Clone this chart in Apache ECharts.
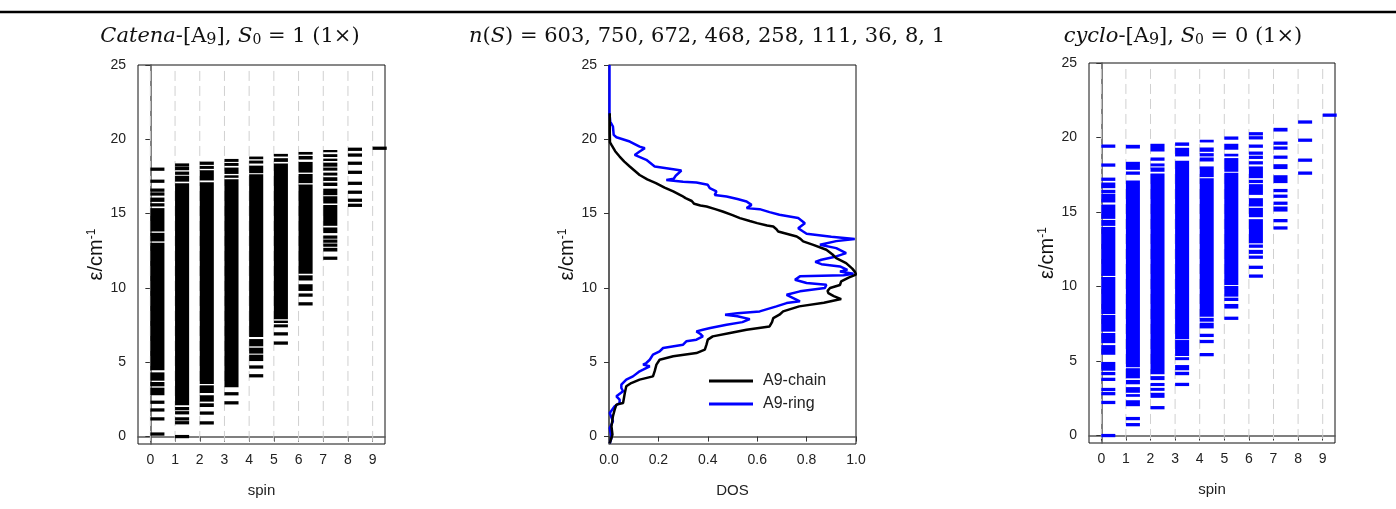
<!DOCTYPE html>
<html>
<head>
<meta charset="utf-8">
<script src="https://cdn.jsdelivr.net/npm/echarts@6/dist/echarts.min.js"></script>
<style>html,body{margin:0;padding:0;background:#fff;}#c{width:1396px;height:509px;}</style>
</head>
<body>
<div id="c"></div>
<script>
// ---- data ----
const spinTicks = [0,1,2,3,4,5,6,7,8,9];
const energyTicks = [0,5,10,15,20,25];

// Catena-[A9] levels per spin: number = single level, [lo,hi] = dense band
const chainLevels = [
  [17.99,17.18,16.58,16.32,[15.79,16.08],[15.48,15.70],[13.80,15.37],[13.13,13.71],[4.46,13.04],[3.76,4.32],[3.38,3.67],[2.78,3.29],2.31,1.79,1.19,0.17],
  [18.27,18.03,17.72,[17.15,17.55],[2.11,17.05],1.88,1.60,1.19,0.93,0.0],
  [[18.28,18.50],[18.01,18.21],[17.23,17.92],[3.54,17.11],[2.93,3.45],[2.35,2.78],[1.99,2.24],1.58,0.92],
  [[18.48,18.68],[18.21,18.41],[17.67,18.10],[17.41,17.58],[3.32,17.32],2.88,2.27],
  [[18.66,18.84],[18.37,18.57],[17.72,18.23],[6.70,17.65],[6.07,6.56],[5.58,5.98],[5.08,5.51],4.68,4.09],
  [[18.84,19.02],[18.48,18.73],[7.90,18.37],[7.64,7.80],[7.35,7.55],6.91,6.29],
  [[18.97,19.15],[18.64,18.88],[17.76,18.48],[17.05,17.67],[10.95,16.96],[10.50,10.85],[9.80,10.25],9.52,8.93],
  [[19.13,19.28],[18.81,19.00],[18.54,18.70],[18.16,18.43],[17.89,18.10],[17.56,17.76],[17.20,17.45],[16.86,17.09],[16.24,16.68],[15.68,16.17],[14.18,15.58],[13.69,14.07],13.42,13.15,12.88,[12.45,12.70],12.0],
  [19.33,18.94,18.39,17.78,17.04,16.44,15.90,15.56],
  [19.40]
];

// cyclo-[A9] levels per spin
const ringLevels = [
  [19.42,18.15,17.20,[16.60,16.98],[16.26,16.49],[15.64,16.22],[14.54,15.50],[14.07,14.47],[10.71,14.00],[8.15,10.64],[6.97,8.09],[6.20,6.88],[5.42,6.07],[4.35,4.94],[4.05,4.27],3.77,3.09,2.81,2.22,0.0],
  [[19.26,19.51],[17.83,18.37],[17.50,17.72],[4.59,17.11],[3.84,4.52],[3.44,3.73],[2.87,3.25],[2.60,2.78],[1.97,2.37],1.14,0.73],
  [[19.06,19.58],[18.44,18.66],[18.06,18.26],[17.70,17.99],[4.12,17.58],[3.72,3.99],[3.32,3.53],[3.00,3.20],[2.53,2.87],1.87],
  [[19.44,19.67],[18.73,19.31],[6.47,18.44],[5.34,6.41],[5.06,5.26],[4.38,4.73],[4.05,4.28],3.43],
  [[19.67,19.85],[19.04,19.33],[18.73,18.95],[18.39,18.66],[17.34,18.06],[7.97,17.27],[7.64,7.90],[7.19,7.57],6.72,6.31,5.43],
  [[19.85,20.07],[19.18,19.58],[18.73,18.91],[17.70,18.62],[10.10,17.63],[9.32,10.04],[9.03,9.25],[8.52,8.83],7.87],
  [20.25,19.98,19.42,[18.84,19.06],18.67,18.30,[17.27,18.06],[16.94,17.16],[16.15,16.87],[15.37,15.93],[14.65,15.28],[12.90,14.52],12.71,[12.19,12.46],11.97,11.29,10.70],
  [[20.40,20.65],19.62,[19.18,19.40],18.68,[17.88,18.21],[16.94,17.47],[16.33,16.55],16.06,[15.48,15.70],[15.03,15.37],14.42,13.93],
  [21.04,19.82,18.48,17.61],
  [21.50]
];

// DOS curves (energy, normalised DOS)
const chainE   = [21.75,20.5,19.8,19.62,19.2,18.84,18.5,18.17,17.6,17.3,17.05,16.75,16.49,16.2,16.04,15.85,15.66,15.55,15.48,15.3,15.14,14.9,14.7,14.5,14.36,14.2,14.13,13.95,13.8,13.6,13.46,13.3,13.13,12.9,12.57,12.25,12.0,11.67,11.3,11.1,10.9,10.7,10.44,10.2,10.0,9.8,9.65,9.45,9.25,9.0,8.76,8.42,8.2,7.97,7.7,7.41,7.19,6.97,6.74,6.52,6.2,5.85,5.62,5.4,5.17,4.84,4.4,4.05,3.83,3.6,3.38,2.93,2.26,2.15,1.81,1.37,0.69,0.13,-0.45];
const chainDos = [0.003,0.003,0.004,0.01,0.025,0.043,0.062,0.084,0.124,0.155,0.19,0.225,0.26,0.295,0.31,0.335,0.345,0.37,0.395,0.43,0.46,0.5,0.53,0.57,0.6,0.64,0.665,0.678,0.685,0.73,0.76,0.775,0.786,0.827,0.88,0.905,0.92,0.96,0.985,0.995,1.0,0.97,0.94,0.935,0.895,0.885,0.888,0.91,0.94,0.87,0.77,0.705,0.69,0.665,0.66,0.65,0.557,0.49,0.42,0.4,0.395,0.388,0.354,0.26,0.205,0.192,0.185,0.178,0.124,0.09,0.07,0.064,0.057,0.03,0.023,0.016,0.01,0.014,0.003];
const ringE   = [25,21.75,21.64,21.2,20.86,20.3,20.14,19.85,19.51,19.4,19.18,18.95,18.62,18.3,18.17,17.99,17.9,17.7,17.55,17.35,17.27,17.15,17.09,16.94,16.71,16.49,16.26,16.15,15.98,15.82,15.59,15.37,15.3,15.1,14.92,14.7,14.36,14.02,13.8,13.65,13.45,13.3,13.15,12.9,12.68,12.34,12.12,11.9,11.75,11.6,11.45,11.22,11.1,10.95,10.85,10.78,10.55,10.33,10.21,9.99,9.77,9.54,9.32,9.1,8.98,8.76,8.42,8.3,8.2,8.1,7.9,7.7,7.53,7.3,7.19,7.08,6.9,6.74,6.52,6.41,6.18,5.96,5.73,5.51,5.17,4.95,4.84,4.73,4.5,4.39,4.05,3.83,3.49,3.27,3.05,2.71,2.49,2.26,2.04,1.59,1.03,0.58,-0.09,-0.45];
const ringDos = [0.002,0.002,0.01,0.005,0.016,0.019,0.03,0.084,0.124,0.145,0.124,0.104,0.151,0.175,0.185,0.26,0.293,0.28,0.27,0.262,0.232,0.3,0.354,0.4,0.408,0.435,0.428,0.476,0.52,0.557,0.577,0.557,0.61,0.65,0.69,0.766,0.793,0.766,0.786,0.8,0.9,0.995,0.92,0.854,0.92,0.96,0.92,0.86,0.835,0.86,0.935,0.965,0.935,0.99,0.95,0.773,0.753,0.8,0.88,0.874,0.773,0.719,0.746,0.773,0.719,0.678,0.61,0.52,0.47,0.52,0.57,0.54,0.476,0.41,0.38,0.354,0.37,0.38,0.354,0.313,0.3,0.219,0.205,0.178,0.165,0.151,0.138,0.165,0.138,0.124,0.097,0.07,0.05,0.05,0.057,0.03,0.043,0.043,0.023,0.003,0.016,0.003,0.01,0.003];

// ---- styling constants ----
const BAR_W = 0.57;      // level segment length in spin units
const LINE_HALF = 0.11;  // half thickness of a single level in energy units
const SANS = 'Liberation Sans';
const SERIF = 'DejaVu Serif';

function levelItems(levels) {
  const out = [];
  levels.forEach((arr, s) => {
    arr.forEach(v => {
      if (Array.isArray(v)) out.push([s, v[0], v[1]]);
      else out.push([s, v - LINE_HALF, v + LINE_HALF]);
    });
  });
  return out;
}

function levelSeries(idx, levels, color) {
  return {
    type: 'custom', xAxisIndex: idx, yAxisIndex: idx, z: 3,
    data: levelItems(levels),
    renderItem(params, api) {
      const s = api.value(0), lo = api.value(1), hi = api.value(2);
      const p1 = api.coord([s, hi]);
      const p2 = api.coord([s + BAR_W, lo]);
      return { type: 'rect', shape: { x: p1[0], y: p1[1], width: p2[0] - p1[0], height: p2[1] - p1[1] },
               style: { fill: color } };
    }
  };
}

function gridLineSeries(idx) {
  return {
    type: 'custom', xAxisIndex: idx, yAxisIndex: idx, z: 1, silent: true,
    data: spinTicks.map(s => [s]),
    renderItem(params, api) {
      const s = api.value(0);
      const a = api.coord([s, 24.6]);
      const b = api.coord([s, -0.5]);
      return { type: 'line', shape: { x1: a[0], y1: a[1], x2: b[0], y2: b[1] },
               style: { stroke: '#d0d0d0', lineWidth: 1, lineDash: [10, 5] } };
    }
  };
}

const axisLineStyle = { show: true, lineStyle: { color: '#555', width: 1.5 } };
const tickStyle = { show: true, length: 5, lineStyle: { color: '#333', width: 1 } };
const labelStyle = { fontFamily: SANS, fontSize: 14, color: '#222' };

function yAxisFor(idx) {
  return {
    gridIndex: idx, type: 'value', min: -0.5, max: 25,
    axisLine: axisLineStyle,
    axisTick: Object.assign({ customValues: energyTicks }, tickStyle),
    axisLabel: Object.assign({ customValues: energyTicks, margin: 12 }, labelStyle),
    splitLine: { show: false },
    name: 'ε/cm{sup|-1}', nameLocation: 'middle', nameGap: 32,
    nameTextStyle: { fontFamily: SANS, fontSize: 20, color: '#111',
      rich: { sup: { fontFamily: SANS, fontSize: 12, verticalAlign: 'top', color: '#111' } } }
  };
}
function spinAxisFor(idx) {
  return {
    gridIndex: idx, type: 'value', min: -0.5, max: 9.5,
    axisLine: axisLineStyle,
    axisTick: Object.assign({ customValues: spinTicks }, tickStyle),
    axisLabel: Object.assign({ customValues: spinTicks, margin: 9 }, labelStyle),
    splitLine: { show: false },
    name: 'spin', nameLocation: 'middle', nameGap: 39,
    nameTextStyle: { fontFamily: SANS, fontSize: 15, color: '#222' }
  };
}

const titleRich = {
  i: { fontFamily: SERIF, fontSize: 21, fontStyle: 'italic', color: '#111' },
  n: { fontFamily: SERIF, fontSize: 16, color: '#111', verticalAlign: 'bottom' },
  sub: { fontFamily: SERIF, fontSize: 14, color: '#111', verticalAlign: 'bottom' }
};
function titleText(x, text) {
  return { type: 'text', x: x, y: 37, z: 10,
    style: { text: text, rich: titleRich, fontFamily: SERIF, fontSize: 21, fill: '#111',
      align: 'center', verticalAlign: 'middle' } };
}

const chart = echarts.init(document.getElementById('c'), null, { renderer: 'canvas' });
chart.setOption({
  backgroundColor: '#fff',
  animation: false,
  grid: [
    { left: 138, top: 65, width: 247, height: 379, show: true, borderColor: '#111', borderWidth: 1 },
    { left: 609, top: 65, width: 247, height: 379, show: true, borderColor: '#111', borderWidth: 1 },
    { left: 1089, top: 63, width: 246, height: 380, show: true, borderColor: '#111', borderWidth: 1 }
  ],
  xAxis: [
    spinAxisFor(0),
    { gridIndex: 1, type: 'value', min: 0, max: 1, interval: 0.2,
      axisLine: axisLineStyle, axisTick: tickStyle,
      axisLabel: Object.assign({ margin: 9, formatter: v => v.toFixed(1) }, labelStyle),
      splitLine: { show: false },
      name: 'DOS', nameLocation: 'middle', nameGap: 39,
      nameTextStyle: { fontFamily: SANS, fontSize: 15, color: '#222' } },
    spinAxisFor(2)
  ],
  yAxis: [yAxisFor(0), yAxisFor(1), yAxisFor(2)],
  legend: {
    left: 704, top: 368, orient: 'vertical', icon: 'rect', itemWidth: 44, itemHeight: 3, itemGap: 7,
    textStyle: { fontFamily: SANS, fontSize: 16, color: '#222', padding: [0, 0, 0, 5] },
    data: ['A9-chain', 'A9-ring']
  },
  graphic: [
    { type: 'line', shape: { x1: 0, y1: 12, x2: 1396, y2: 12 }, style: { stroke: '#000', lineWidth: 2.5 } },
    titleText(230, '{i|Catena}-[A{n|9}], {i|S}{sub|0} = 1 (1×)'),
    titleText(707, '{i|n}({i|S}) = 603, 750, 672, 468, 258, 111, 36, 8, 1'),
    titleText(1183, '{i|cyclo}-[A{n|9}], {i|S}{sub|0} = 0 (1×)')
  ],
  series: [
    gridLineSeries(0),
    levelSeries(0, chainLevels, '#000'),
    gridLineSeries(2),
    levelSeries(2, ringLevels, '#0000ff'),
    { name: 'A9-chain', type: 'line', xAxisIndex: 1, yAxisIndex: 1, symbol: 'none', z: 4,
      lineStyle: { color: '#000', width: 2.5 }, itemStyle: { color: '#000' },
      data: chainE.map((e, i) => [chainDos[i], e]) },
    { name: 'A9-ring', type: 'line', xAxisIndex: 1, yAxisIndex: 1, symbol: 'none', z: 3,
      lineStyle: { color: '#0000ff', width: 2.5 }, itemStyle: { color: '#0000ff' },
      data: ringE.map((e, i) => [ringDos[i], e]) }
  ]
});
</script>
</body>
</html>
